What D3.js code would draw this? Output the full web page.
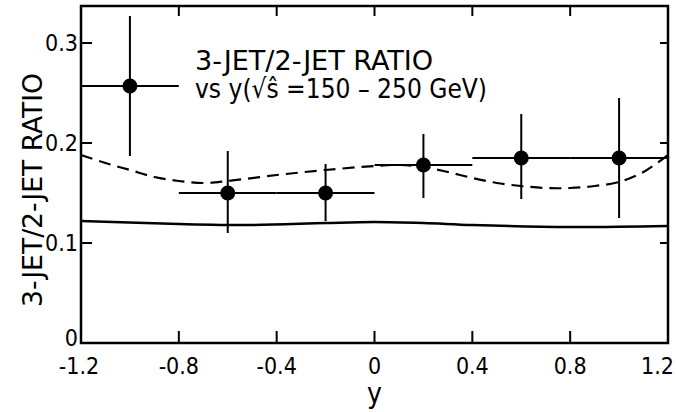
<!DOCTYPE html>
<html>
<head>
<meta charset="utf-8">
<script src="https://cdn.jsdelivr.net/npm/d3@7"></script>
<style>
  body { margin: 0; background: #fff; }
  svg { display: block; }
  text { fill: #000; font-family: "DejaVu Sans Condensed", "Liberation Sans Narrow", sans-serif; }
</style>
</head>
<body>
<div id="chart"></div>
<script>
// data points (rapidity bin centre, ratio, errors)
var binY = [-1.0, -0.6, -0.2, 0.2, 0.6, 1.0];
var binHalf = [0.2, 0.2, 0.2, 0.2, 0.2, 0.2];
var ratio = [0.257, 0.150, 0.150, 0.178, 0.185, 0.185];
var errUp = [0.327, 0.192, 0.179, 0.209, 0.229, 0.245];
var errDown = [0.187, 0.110, 0.122, 0.145, 0.144, 0.125];

// theory curves
var dashX = [-1.2, -1.1, -1.0, -0.9, -0.8, -0.7, -0.6, -0.4, -0.2, 0, 0.1, 0.2, 0.3, 0.4, 0.5, 0.6, 0.7, 0.8, 0.9, 1.0, 1.1, 1.2];
var dashV = [0.188, 0.180, 0.173, 0.166, 0.162, 0.160, 0.162, 0.168, 0.173, 0.177, 0.178, 0.176, 0.171, 0.165, 0.160, 0.157, 0.155, 0.155, 0.157, 0.161, 0.171, 0.188];
var solidX = [-1.2, -0.8, -0.5, -0.2, 0, 0.2, 0.4, 0.8, 1.2];
var solidV = [0.122, 0.119, 0.118, 0.120, 0.121, 0.120, 0.118, 0.116, 0.117];

var xTicks = [-1.2, -0.8, -0.4, 0, 0.4, 0.8, 1.2];
var xTickLabels = ["-1.2", "-0.8", "-0.4", "0", "0.4", "0.8", "1.2"];
var yTicks = [0, 0.1, 0.2, 0.3];
var yTickLabels = ["0", "0.1", "0.2", "0.3"];

var svgWidth = 676;
var svgHeight = 412;
var margin = { top: 6, right: 8, bottom: 69, left: 81 };
var width = svgWidth - margin.left - margin.right;
var height = svgHeight - margin.top - margin.bottom;

var svg = d3.select("#chart").append("svg")
  .attr("width", svgWidth)
  .attr("height", svgHeight);

var g = svg.append("g")
  .attr("transform", `translate(${margin.left}, ${margin.top})`);

var x = d3.scaleLinear().domain([-1.2, 1.2]).range([0, width]);
var y = d3.scaleLinear().domain([0, 0.337]).range([height, 0]);

// frame
g.append("rect")
  .attr("width", width)
  .attr("height", height)
  .attr("fill", "none")
  .attr("stroke", "#000")
  .attr("stroke-width", 2.5);

// inner ticks on all four sides
var inner = xTicks.slice(1, -1);
g.selectAll(".tb").data(inner).enter().append("line")
  .attr("x1", d => x(d)).attr("x2", d => x(d))
  .attr("y1", height).attr("y2", height - 12)
  .attr("stroke", "#000").attr("stroke-width", 2);
g.selectAll(".tt").data(inner).enter().append("line")
  .attr("x1", d => x(d)).attr("x2", d => x(d))
  .attr("y1", 0).attr("y2", 10)
  .attr("stroke", "#000").attr("stroke-width", 2);
var yInner = yTicks.slice(1);
g.selectAll(".tl").data(yInner).enter().append("line")
  .attr("x1", 0).attr("x2", 11)
  .attr("y1", d => y(d)).attr("y2", d => y(d))
  .attr("stroke", "#000").attr("stroke-width", 2);
g.selectAll(".tr").data(yInner).enter().append("line")
  .attr("x1", width).attr("x2", width - 8)
  .attr("y1", d => y(d)).attr("y2", d => y(d))
  .attr("stroke", "#000").attr("stroke-width", 2);

// tick labels
var lastX = xTicks.length - 1;
g.selectAll(".xl").data(xTicks).enter().append("text")
  .attr("x", (d, i) => i === lastX ? width + 6 : x(d) - (i === 0 ? 2 : 0))
  .attr("y", height + 31)
  .attr("text-anchor", (d, i) => i === lastX ? "end" : "middle")
  .attr("font-size", 23)
  .text((d, i) => xTickLabels[i]);

g.selectAll(".yl").data(yTicks).enter().append("text")
  .attr("x", -3)
  .attr("y", d => y(d))
  .attr("dy", d => d === 0 ? "0.15em" : "0.35em")
  .attr("text-anchor", "end")
  .attr("font-size", 23)
  .text((d, i) => yTickLabels[i]);

// axis titles
g.append("text")
  .attr("x", x(0))
  .attr("y", height + 60)
  .attr("text-anchor", "middle")
  .attr("font-size", 28)
  .text("y");

g.append("text")
  .attr("transform", `translate(${-39}, ${190 - margin.top}) rotate(-90)`)
  .attr("text-anchor", "middle")
  .attr("font-size", 27)
  .attr("textLength", 234)
  .attr("lengthAdjust", "spacingAndGlyphs")
  .text("3-JET/2-JET RATIO");

// annotation
g.append("text")
  .attr("x", 114).attr("y", 64)
  .attr("font-size", 27)
  .attr("textLength", 238)
  .attr("lengthAdjust", "spacingAndGlyphs")
  .text("3-JET/2-JET RATIO");
g.append("text")
  .attr("x", 114).attr("y", 92)
  .attr("font-size", 27)
  .attr("textLength", 292)
  .attr("lengthAdjust", "spacingAndGlyphs")
  .text("vs y(√ŝ =150 – 250 GeV)");

// theory curves
var line = d3.line()
  .x(d => x(d[0]))
  .y(d => y(d[1]))
  .curve(d3.curveCatmullRom);

g.append("path")
  .datum(dashX.map((d, i) => [d, dashV[i]]))
  .attr("d", line)
  .attr("fill", "none")
  .attr("stroke", "#000")
  .attr("stroke-width", 2.2)
  .attr("stroke-dasharray", "12,7");

g.append("path")
  .datum(solidX.map((d, i) => [d, solidV[i]]))
  .attr("d", line)
  .attr("fill", "none")
  .attr("stroke", "#000")
  .attr("stroke-width", 2.5);

// data with error bars
var pts = g.selectAll(".pt").data(binY).enter().append("g");
pts.append("line")
  .attr("x1", (d, i) => x(d - binHalf[i]))
  .attr("x2", (d, i) => x(d + binHalf[i]))
  .attr("y1", (d, i) => y(ratio[i]))
  .attr("y2", (d, i) => y(ratio[i]))
  .attr("stroke", "#000").attr("stroke-width", 2);
pts.append("line")
  .attr("x1", d => x(d)).attr("x2", d => x(d))
  .attr("y1", (d, i) => y(errUp[i]))
  .attr("y2", (d, i) => y(errDown[i]))
  .attr("stroke", "#000").attr("stroke-width", 2);
pts.append("circle")
  .attr("cx", d => x(d))
  .attr("cy", (d, i) => y(ratio[i]))
  .attr("r", 7.5)
  .attr("fill", "#000");
</script>
</body>
</html>
